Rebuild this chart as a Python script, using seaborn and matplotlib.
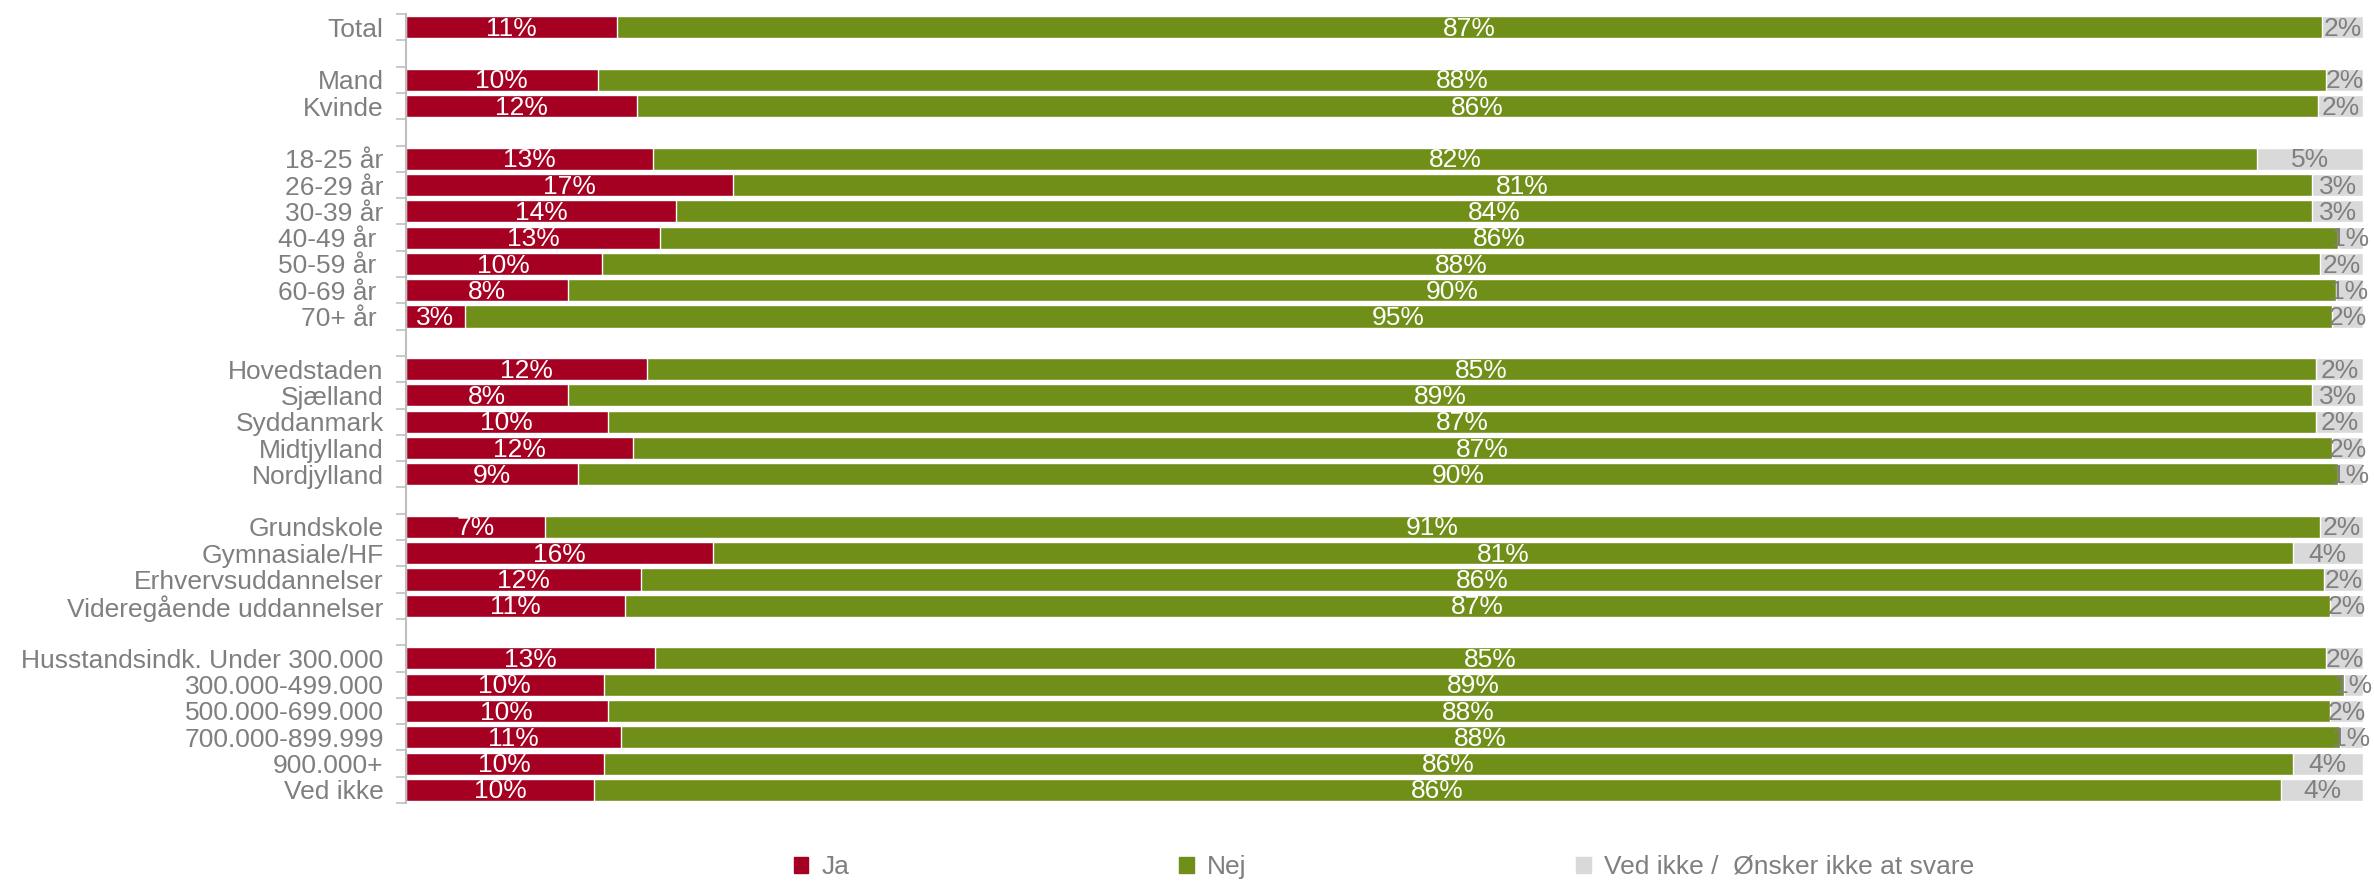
import numpy as np
import pandas as pd
import matplotlib.pyplot as plt
import seaborn as sns
from matplotlib.patches import Patch

# Rows from top to bottom; "" marks the blank spacer row between groups
rows = ["Total", "",
        "Mand", "Kvinde", "",
        "18-25 år", "26-29 år", "30-39 år", "40-49 år ", "50-59 år ", "60-69 år ", "70+ år ", "",
        "Hovedstaden", "Sjælland", "Syddanmark", "Midtjylland", "Nordjylland", "",
        "Grundskole", "Gymnasiale/HF", "Erhvervsuddannelser", "Videregående uddannelser", "",
        "Husstandsindk. Under 300.000", "300.000-499.000", "500.000-699.000",
        "700.000-899.999", "900.000+", "Ved ikke"]

# shares in % for the non-blank rows, in the same order
ja = [10.8,
      9.8, 11.8,
      12.6, 16.7, 13.8, 13.0, 10.0, 8.3, 3.0,
      12.3, 8.3, 10.3, 11.6, 8.8,
      7.1, 15.7, 12.0, 11.2,
      12.7, 10.1, 10.3, 11.0, 10.1, 9.6]
nej = [87.1,
       88.3, 85.9,
       82.0, 80.7, 83.6, 85.7, 87.8, 90.3, 95.4,
       85.3, 89.1, 87.3, 86.8, 89.9,
       90.7, 80.7, 86.0, 87.1,
       85.4, 88.9, 88.0, 87.8, 86.3, 86.2]
ved_ikke = [2.1,
            1.9, 2.3,
            5.4, 2.6, 2.6, 1.3, 2.2, 1.4, 1.6,
            2.4, 2.6, 2.4, 1.6, 1.3,
            2.2, 3.6, 2.0, 1.7,
            1.9, 1.0, 1.7, 1.2, 3.6, 4.2]

legend_labels = ["Ja", "Nej", "Ved ikke /  Ønsker ikke at svare"]

RED = "#A50021"
GREEN = "#708F18"
GREY = "#D9D9D9"
TEXT = "#7F7F7F"
FONT = ["Liberation Sans Narrow", "Liberation Sans", "DejaVu Sans"]

sns.set_style("white")
plt.rcParams["font.family"] = FONT


def main():
    pos = [i for i, r in enumerate(rows) if r != ""]
    df = pd.DataFrame({"label": [rows[i] for i in pos], "pos": pos,
                       "ja": ja, "nej": nej, "vi": ved_ikke})
    df["ja_nej"] = df["ja"] + df["nej"]
    df["all"] = df["ja_nej"] + df["vi"]

    fig = plt.figure(figsize=(23.74, 8.81), dpi=100)
    ax = fig.add_axes([0.171, 0.0885, 0.8244, 0.8955])

    # stacked bars drawn as overlapping cumulative bars
    for col, color in [("all", GREY), ("ja_nej", GREEN), ("ja", RED)]:
        sns.barplot(data=df, x=col, y="pos", orient="h", native_scale=True,
                    color=color, saturation=1, width=0.84, errorbar=None, ax=ax)

    fs = 19
    for _, r in df.iterrows():
        y = r["pos"] + 0.06
        ax.text(r["ja"] / 2, y, f"{r['ja']:.0f}%", ha="center", va="center",
                color="white", fontsize=fs)
        ax.text(r["ja"] + r["nej"] / 2, y, f"{r['nej']:.0f}%", ha="center",
                va="center", color="white", fontsize=fs)
        ax.text(r["ja_nej"] + r["vi"] / 2, y, f"{r['vi']:.0f}%", ha="center",
                va="center", color=TEXT, fontsize=fs)

    ax.set_xlim(0, 100)
    ax.set_ylim(len(rows) - 0.5, -0.5)
    ax.set_xlabel("")
    ax.set_ylabel("")
    ax.set_xticks([])

    # tick marks between rows, labels at row centres
    ax.set_yticks(np.arange(-0.5, len(rows), 1))
    ax.set_yticks(range(len(rows)), labels=rows, minor=True)
    ax.tick_params(axis="y", which="major", length=7, width=1.2,
                   color="#BFBFBF", labelleft=False, left=True)
    ax.tick_params(axis="y", which="minor", length=0, pad=16,
                   labelsize=fs, labelcolor=TEXT)

    for s in ["top", "right", "bottom"]:
        ax.spines[s].set_visible(False)
    ax.spines["left"].set_color("#BFBFBF")
    ax.spines["left"].set_linewidth(1.5)

    handles = [Patch(color=c) for c in [RED, GREEN, GREY]]
    fig.legend(handles, legend_labels, loc="center", bbox_to_anchor=(0.583, 0.016),
               ncol=3, frameon=False, columnspacing=12.5, handlelength=0.55,
               handleheight=0.55, handletextpad=0.5, fontsize=fs, labelcolor=TEXT)

    fig.savefig("out.png", dpi=100)


if __name__ == "__main__":
    main()
